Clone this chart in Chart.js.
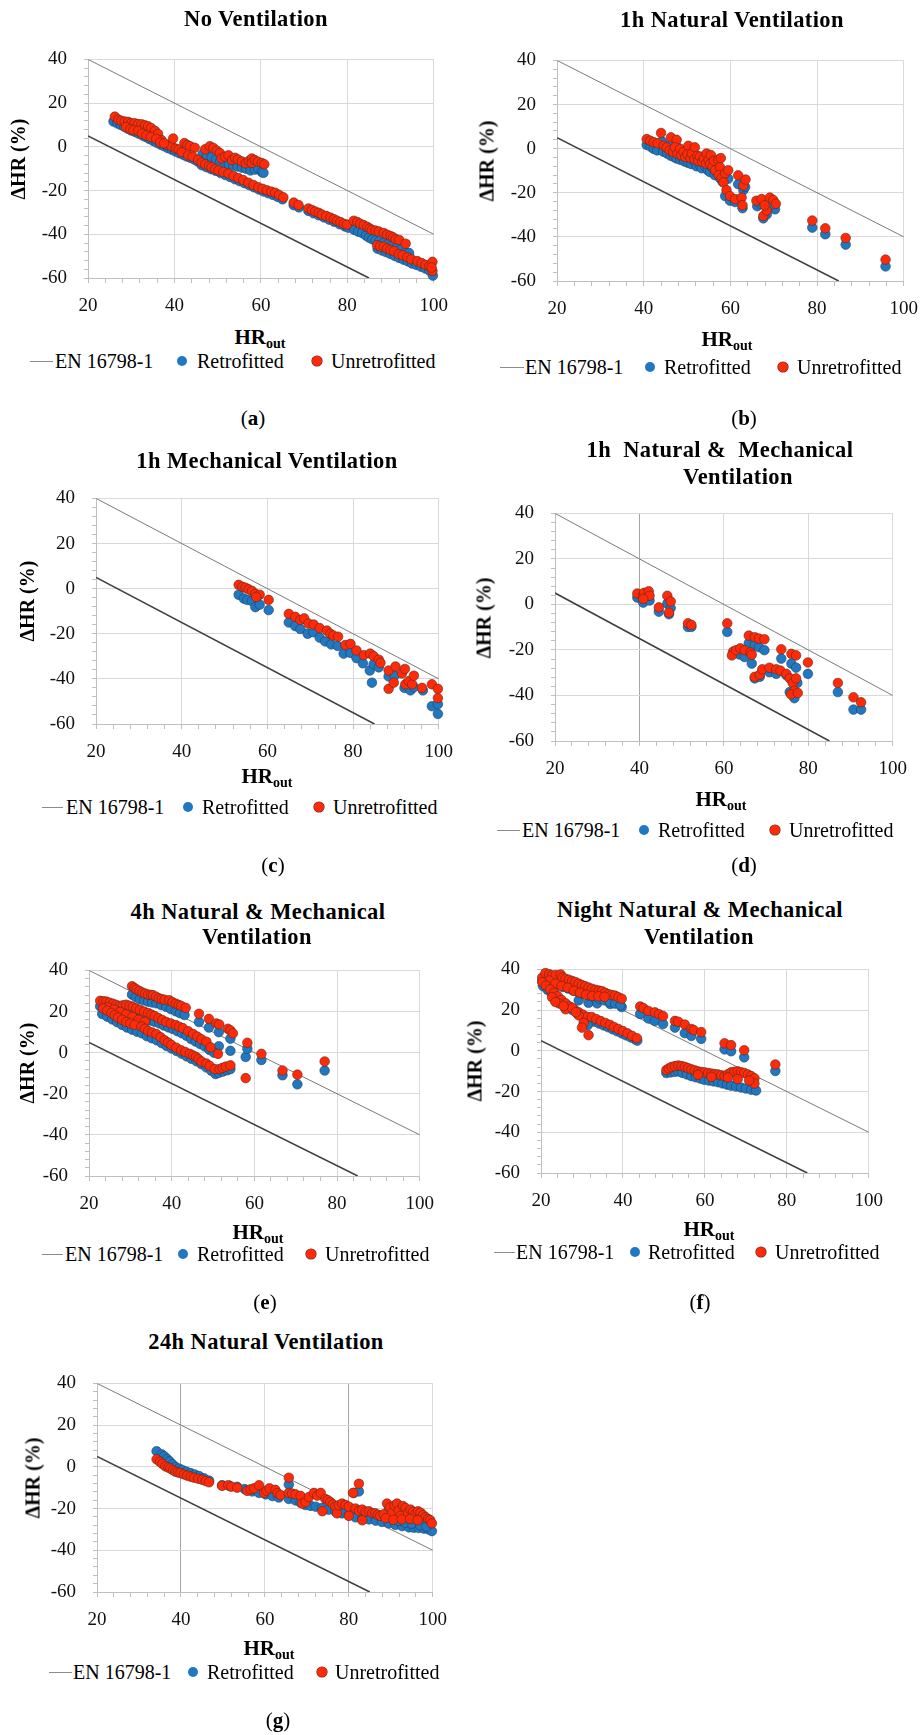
<!DOCTYPE html>
<html>
<head>
<meta charset="utf-8">
<script src="https://cdn.jsdelivr.net/npm/chart.js@4.4.1/dist/chart.umd.min.js"></script>
<style>
  body { margin: 0; background: #fff; width: 924px; height: 1735px; position: relative; overflow: hidden;
         font-family: "Liberation Serif", "DejaVu Serif", serif; color: #000; }
  .c { position: absolute; white-space: nowrap; transform: translate(-50%, -50%); }
  .l { position: absolute; white-space: nowrap; transform: translateY(-50%); font-size: 20px; }
  .ttl { font-weight: bold; font-size: 22.5px; letter-spacing: 0.4px; }
  .yt { font-weight: bold; font-size: 20px; transform: translate(-50%, -50%) rotate(-90deg); }
  .xt { font-weight: bold; font-size: 21px; }
  .xt sub { font-size: 14px; vertical-align: -4px; }
  .tag { font-size: 21px; }
  .dot { position: absolute; width: 10px; height: 10px; border-radius: 50%; transform: translate(-50%, -50%); }
  .seg { position: absolute; height: 0; border-top: 1px solid #8c8c8c; }
  .cw { position: absolute; }
</style>
</head>
<body>
<script>
"use strict";

// EN 16798-1 limit lines
const enUpperX = [20, 100];
const enUpperY = [40, -40];
const enLowerX = [20, 85];
const enLowerY = [5, -60];

// tick labels
const xTicks = [20, 40, 60, 80, 100];
const yTicks = [-60, -40, -20, 0, 20, 40];

// (a) No Ventilation
const aUnretro = [[26.2,13.8],[27.0,12.5],[27.7,11.9],[28.5,11.6],[29.3,11.4],[30.0,10.8],[30.8,10.8],[31.6,10.4],[32.4,10.3],[33.2,9.8],[33.9,9.4],[34.6,8.6],[35.5,7.3],[36.2,5.9],[37.0,3.1],[38.2,1.0],[39.3,0.3],[39.7,3.8],[28.8,9.0],[29.8,8.0],[30.5,7.6],[31.6,7.3],[32.5,6.0],[33.5,5.2],[34.5,4.5],[35.8,3.6],[36.7,2.0],[37.6,1.6],[40.3,-0.8],[41.0,-1.2],[41.7,-2.5],[42.3,1.7],[43.0,0.8],[43.6,0.3],[44.7,-0.4],[43.2,-3.9],[44.2,-4.5],[45.5,-6.0],
  [47.1,-1.1],[48.2,0.3],[49.0,-0.5],[49.8,-1.8],[50.5,-2.8],[50.9,-5.3],[51.7,-4.5],[52.5,-3.9],[53.3,-6.0],[54.0,-5.0],[54.7,-5.8],[55.6,-6.7],[56.5,-7.5],[57.2,-6.5],[57.9,-5.3],[57.9,-7.4],[58.6,-6.1],[59.3,-6.8],[60.2,-7.4],[60.8,-8.0],
  [46.3,-7.2],[47.1,-8.0],[48.0,-8.8],[48.6,-9.4],[49.4,-10.2],[50.2,-10.8],[51.3,-11.5],[52.5,-12.2],[53.7,-13.4],[54.8,-14.3],[55.9,-15.2],[57.1,-16.4],[58.3,-17.5],[59.4,-18.5],[60.4,-19.2],[61.4,-19.9],[62.4,-20.5],[63.3,-21.0],[64.2,-22.0],[65.2,-23.1],[67.6,-25.5],[68.7,-26.6],[71.0,-28.2],[71.8,-28.9],[72.6,-29.6],[73.4,-30.2],[74.1,-31.0],[75.1,-31.6],[76.1,-32.4],[76.9,-33.1],[77.6,-33.8],[78.4,-34.4],[79.2,-35.2],[79.9,-35.6],
  [81.5,-33.8],[82.3,-34.4],[83.0,-35.2],[83.8,-35.8],[84.6,-36.6],[85.2,-37.4],[85.7,-38.0],[86.5,-38.3],[87.3,-38.7],[88.4,-39.4],[89.2,-40.2],[90.0,-40.8],[90.6,-41.4],[91.2,-42.2],[92.0,-42.6],[93.5,-44.3],
  [86.9,-45.0],[87.6,-45.5],[88.4,-45.7],[89.2,-46.6],[90.0,-47.2],[90.8,-47.7],[91.9,-49.1],[92.8,-49.6],[93.9,-50.5],[94.8,-51.4],[96.2,-52.3],[97.2,-53.2],[98.1,-54.0],[99.0,-54.6],[99.7,-52.6],[99.7,-56.8],[99.5,-55.2]];
const aRetro = [[25.9,11.6],[26.8,10.7],[27.6,10.0],[28.4,9.2],[29.2,8.3],[30.0,7.5],[30.9,6.8],[31.7,6.1],[32.6,5.2],[33.4,4.5],[34.2,3.6],[35.1,2.7],[35.9,1.9],[36.8,1.0],[37.6,0.3],[38.5,-0.6],[39.4,-1.3],[40.2,-2.1],[41.1,-2.9],[42.0,-3.6],[42.8,-4.4],[43.7,-5.0],[44.6,-5.8],[45.4,-6.7],
  [46.5,-3.4],[47.5,-4.0],[48.6,-4.8],[49.6,-5.6],[50.6,-6.5],[51.6,-7.3],[52.6,-8.1],[53.6,-8.6],[54.6,-9.0],[55.6,-9.5],[56.6,-10.0],[57.6,-10.8],[58.6,-10.4],[59.4,-10.0],[60.2,-11.5],[60.6,-11.9],
  [46.3,-8.4],[47.4,-9.3],[48.5,-10.2],[49.6,-11.0],[50.7,-12.0],[51.8,-12.9],[52.9,-13.8],[54.0,-14.8],[55.1,-15.7],[56.2,-16.6],[57.3,-17.5],[58.4,-18.5],[59.5,-19.5],[60.6,-20.4],[61.7,-21.2],[62.8,-22.0],[63.9,-22.9],[65.0,-24.0],[67.6,-26.7],[68.8,-27.7],[71.0,-29.3],[72.2,-30.4],[73.4,-31.3],[74.6,-32.3],[75.8,-33.3],[77.0,-34.3],[78.2,-35.4],[79.4,-36.4],[80.2,-37.0],
  [81.6,-38.0],[82.5,-38.8],[83.4,-39.4],[84.3,-40.6],[85.0,-41.5],[85.8,-42.3],[86.5,-42.9],[87.4,-43.2],[88.4,-44.0],[89.4,-44.6],[90.4,-45.2],[91.4,-46.0],[92.4,-47.0],[93.5,-48.2],[94.3,-48.6],
  [87.0,-46.6],[88.0,-47.4],[89.0,-48.2],[90.0,-49.0],[91.0,-49.9],[92.0,-50.8],[93.0,-51.6],[94.0,-52.4],[95.0,-53.4],[96.0,-54.0],[97.0,-54.8],[98.0,-55.6],[99.0,-56.6],[99.8,-58.9]];

// (b) 1h Natural Ventilation
const bUnretro = [[40.7,4.3],[41.5,3.6],[42.3,2.9],[43.2,2.4],[44.0,7.1],[44.6,1.3],[45.3,0.5],[46.3,5.1],[46.0,-0.8],[46.8,-1.6],[47.6,4.0],[47.2,0.6],[47.8,-2.3],[48.4,-0.1],[48.6,-3.0],[49.2,-1.5],[49.6,-3.8],[50.3,1.3],[50.1,-2.6],[50.8,-4.2],[51.1,-2.2],[51.8,0.6],[51.7,-4.8],[52.4,-3.3],[52.6,-5.6],[53.0,-3.6],[53.5,-6.0],[53.9,-4.4],[54.5,-2.2],[54.4,-6.8],[55.0,-5.0],[55.5,-2.9],[55.3,-7.0],[55.9,-8.1],[56.5,-9.8],[56.2,-5.5],[57.2,-5.0],[57.8,-4.3],[57.6,-8.4],[57.3,-12.0],[58.0,-13.3],[58.8,-11.2],[59.5,-9.8],[58.4,-15.3],[59.1,-18.8],[59.9,-21.5],[61.1,-22.9],[62.6,-22.2],[61.8,-12.1],[63.0,-16.7],[63.5,-14.0],[62.8,-25.7],[66.0,-23.6],[67.2,-22.9],[67.6,-30.5],[68.4,-28.0],[67.9,-25.7],[69.1,-22.2],[69.9,-23.3],[70.5,-25.0],[78.9,-32.6],[81.9,-36.1],[86.6,-40.5],[95.8,-50.3]];
const bRetro = [[40.7,1.7],[41.6,0.9],[42.3,-0.1],[43.1,-0.8],[44.2,3.3],[44.5,-1.4],[45.4,-2.2],[46.3,2.0],[46.2,-3.2],[47.0,-3.8],[47.6,1.0],[47.6,-4.5],[48.4,-5.0],[49.0,-4.2],[49.4,-5.8],[50.2,-6.4],[50.8,-3.0],[51.0,-7.0],[51.8,-6.0],[52.2,-8.0],[52.9,-7.4],[53.4,-8.9],[54.2,-8.0],[54.8,-9.8],[55.3,-10.6],[55.8,-8.6],[56.4,-12.0],[57.0,-11.0],[57.6,-13.4],[58.2,-15.0],[58.8,-14.0],[59.5,-13.6],[58.8,-21.5],[59.9,-23.6],[61.1,-24.2],[61.8,-16.1],[63.0,-18.8],[63.4,-17.4],[62.8,-27.0],[66.2,-26.1],[67.0,-25.0],[67.6,-31.6],[68.4,-29.8],[70.3,-27.5],[69.5,-25.4],[78.9,-35.8],[81.9,-38.8],[86.6,-43.5],[95.8,-53.4]];

// (c) 1h Mechanical Ventilation
const cUnretro = [[53.3,1.7],[54.2,0.8],[54.9,0.4],[55.6,-0.3],[56.4,-1.0],[57.2,-2.3],[58.2,-2.7],[57.4,-3.7],[60.3,-5.0],[65.0,-11.2],[66.5,-12.5],[67.7,-13.9],[68.6,-13.2],[69.6,-15.5],[70.8,-15.9],[72.2,-17.5],[73.9,-18.6],[74.7,-20.0],[75.4,-20.8],[76.5,-21.3],[78.2,-25.0],[79.4,-24.5],[80.8,-27.4],[82.5,-29.5],[84.0,-28.8],[84.8,-29.9],[86.0,-31.5],[86.4,-32.9],[88.3,-36.3],[88.3,-44.4],[89.5,-41.7],[89.9,-34.5],[91.4,-37.6],[92.1,-35.6],[92.2,-42.4],[93.0,-41.0],[93.8,-42.4],[94.2,-38.6],[96.1,-44.0],[98.4,-42.4],[99.8,-44.4],[99.8,-48.5]];
const cRetro = [[53.3,-2.7],[54.5,-4.4],[55.3,-5.0],[56.4,-5.5],[57.2,-8.2],[58.2,-7.1],[60.3,-9.5],[65.0,-15.0],[66.5,-16.6],[67.7,-17.9],[69.4,-20.0],[70.7,-19.3],[72.2,-21.7],[73.5,-23.4],[74.9,-24.7],[76.4,-25.4],[77.8,-28.8],[79.4,-28.5],[80.8,-30.8],[82.3,-33.1],[83.9,-36.3],[84.4,-41.7],[84.8,-33.5],[86.0,-34.9],[88.3,-38.9],[89.7,-38.6],[92.0,-44.0],[93.4,-45.1],[94.2,-43.7],[96.3,-45.1],[98.4,-52.1],[99.8,-51.2],[99.8,-55.5]];

// (d) 1h Natural & Mechanical Ventilation
const dUnretro = [[39.5,4.8],[40.9,4.0],[41.1,5.1],[42.2,5.8],[42.4,3.8],[40.9,2.4],[44.6,-1.3],[46.6,3.8],[47.0,-3.6],[47.4,1.3],[51.5,-8.3],[52.3,-9.0],[60.8,-8.3],[62.2,-20.7],[61.9,-22.4],[62.9,-20.1],[63.9,-19.3],[64.9,-20.1],[65.9,-13.7],[66.3,-21.1],[66.6,-22.1],[67.3,-14.4],[68.3,-15.0],[69.6,-15.3],[67.3,-31.8],[68.5,-30.9],[69.1,-28.5],[70.8,-27.8],[72.4,-28.5],[73.4,-29.1],[73.6,-19.7],[74.8,-30.5],[75.6,-32.5],[76.0,-21.7],[76.3,-34.5],[76.7,-37.9],[75.9,-39.5],[77.1,-22.4],[77.1,-32.5],[77.5,-38.9],[79.9,-25.5],[87.0,-34.5],[90.7,-40.8],[92.5,-43.0]];
const dRetro = [[39.5,3.0],[40.9,0.8],[42.4,1.7],[44.6,-3.2],[46.6,0.4],[47.0,-4.3],[47.4,-1.6],[51.5,-9.9],[52.3,-9.9],[60.8,-12.1],[63.7,-22.0],[64.9,-23.1],[65.9,-17.0],[66.6,-26.0],[67.3,-17.7],[68.3,-18.8],[69.6,-20.1],[67.3,-32.5],[68.5,-31.8],[70.8,-29.8],[72.4,-30.5],[73.6,-23.8],[74.8,-31.1],[75.6,-38.5],[76.0,-26.0],[76.7,-41.2],[77.1,-27.8],[77.4,-34.5],[79.9,-30.5],[87.0,-38.5],[90.7,-46.2],[92.5,-46.2]];

// (e) 4h Natural & Mechanical Ventilation
const eUnretro = [[30.4,32.3],[31.0,31.4],[31.5,30.7],[32.2,30.0],[32.9,29.2],[33.6,28.7],[34.3,28.2],[35.0,28.1],[35.5,27.9],[36.2,27.2],[36.9,26.4],[37.6,26.0],[38.3,25.7],[39.4,25.5],[40.2,24.5],[41.0,23.8],[41.7,23.2],[42.3,22.7],[43.4,21.8],[46.6,18.9],[49.0,16.4],[50.8,14.2],[51.5,13.7],[53.6,11.6],[54.2,10.8],[54.8,9.4],[58.3,4.8],[61.7,-0.6],[66.8,-8.7],[70.4,-10.7],[77.0,-4.3],
  [22.7,25.2],[23.5,25.0],[24.2,24.8],[25.0,24.3],[25.8,23.8],[26.6,23.2],[27.4,22.7],[28.2,23.0],[29.0,23.3],[29.8,22.8],[30.6,22.3],[31.4,21.5],[32.3,20.8],[33.3,20.0],[34.3,19.3],[35.1,18.5],[35.9,17.8],[36.8,16.8],[37.7,15.9],[38.7,14.9],[39.8,14.2],[41.0,13.4],[41.8,12.6],[42.7,11.9],[44.0,10.4],[45.2,9.0],[46.2,7.8],[47.2,6.5],[48.4,5.3],[49.4,2.6],[51.2,-0.6],
  [24.5,22.0],[26.0,21.0],[27.5,19.8],[29.0,18.6],[30.5,17.4],[31.5,14.2],[32.0,16.0],[33.5,15.0],
  [23.4,21.5],[24.4,20.4],[25.4,19.3],[26.2,18.2],[27.0,17.1],[28.0,16.0],[29.0,14.9],[30.0,14.2],[31.0,13.5],[32.7,12.7],[33.5,11.6],[34.3,10.5],[35.3,9.8],[36.3,9.0],[37.3,7.5],[38.3,6.0],[39.1,4.9],[39.9,3.8],[41.1,2.4],[42.3,1.1],[43.3,0.3],[44.4,-0.6],[45.2,-1.4],[45.9,-2.1],[46.5,-3.2],[47.2,-4.3],[48.4,-5.3],[49.2,-6.5],[50.4,-8.0],[51.6,-8.0],[52.3,-7.4],[53.1,-6.8],[54.2,-6.2],[57.9,-12.4]];
const eRetro = [[30.4,28.2],[31.3,27.1],[32.3,26.0],[33.3,25.4],[34.3,24.8],[35.3,24.4],[36.3,24.0],[37.5,23.1],[38.7,22.3],[39.8,21.2],[41.0,20.1],[42.0,19.2],[43.1,18.3],[46.6,14.9],[49.0,12.2],[51.4,10.0],[51.4,3.1],[54.2,6.8],[54.2,0.9],[57.9,-2.1],[58.3,1.9],[61.7,-3.6],[66.8,-11.0],[70.4,-15.4],[77.0,-8.7],
  [22.7,22.5],[23.8,21.8],[24.9,21.0],[26.0,20.0],[27.1,19.0],[28.2,19.5],[29.3,19.8],[30.4,19.0],[31.5,18.0],[32.6,17.2],[33.7,16.4],[34.8,15.6],[35.9,15.0],[37.0,14.2],[38.1,13.2],[39.2,12.3],[40.3,11.5],[41.4,10.4],[42.5,9.4],[43.6,8.2],[44.7,6.6],[45.8,5.4],[46.9,4.2],[48.0,3.0],[49.1,1.4],[50.2,0.0],
  [23.2,18.8],[24.4,17.5],[25.6,16.2],[26.8,14.8],[28.0,13.5],[29.2,12.2],[30.4,11.2],[31.6,10.2],[32.8,9.4],[34.0,8.0],[35.2,7.0],[36.4,6.0],[37.6,4.6],[38.8,3.2],[40.0,2.0],[41.2,0.8],[42.4,-0.5],[43.6,-1.8],[44.8,-3.0],[46.0,-4.2],[47.2,-5.6],[48.4,-7.2],[49.6,-8.8],[50.6,-10.4],[51.4,-9.8],[52.4,-9.2],[53.4,-8.6],[54.2,-8.0]];

// (f) Night Natural & Mechanical Ventilation
const fUnretro = [[20.3,36.0],[21.1,38.2],[22.0,37.6],[22.7,37.0],[23.6,37.2],[24.8,37.5],[25.2,36.0],[26.0,35.4],[26.8,34.9],[27.6,34.3],[28.4,33.8],[29.2,33.0],[30.0,32.3],[30.8,31.7],[31.6,31.1],[32.4,30.5],[33.3,30.0],[34.1,29.6],[34.9,29.3],[35.7,28.5],[36.5,27.8],[37.3,27.4],[38.1,27.1],[38.9,26.3],[39.7,25.6],
  [22.0,34.5],[23.5,33.0],[25.0,31.8],[26.5,31.0],[28.0,29.5],[29.5,28.5],[31.0,27.5],[32.5,27.0],[34.0,26.8],[35.5,26.5],
  [20.3,33.7],[21.2,32.0],[22.2,30.2],[23.2,28.5],[24.1,26.8],[25.0,25.0],[26.0,23.3],[27.0,21.8],[28.1,20.4],[29.2,18.9],[30.2,17.8],[31.3,16.7],[32.4,16.6],[33.5,15.6],[34.6,14.6],[35.7,13.7],[36.8,12.8],[37.8,11.7],[38.9,10.7],[40.0,9.7],[41.1,8.6],[42.2,7.4],[43.4,6.2],
  [22.7,26.3],[24.4,23.3],[26.0,20.4],[27.6,21.1],[29.2,17.4],[30.4,13.7],[31.6,7.7],[30.0,11.4],[23.5,24.0],[25.5,22.0],[28.5,19.0],
  [44.2,21.8],[45.0,21.0],[46.2,19.6],[47.8,18.9],[48.8,18.0],[49.8,17.1],[52.7,14.7],[53.5,14.3],[55.1,12.9],[56.7,10.7],[57.3,10.2],[59.1,9.2],[64.8,3.7],[66.4,2.8],[69.6,0.3],[77.2,-6.7],
  [50.6,-9.4],[51.2,-8.6],[51.9,-7.9],[52.7,-7.5],[53.5,-7.2],[54.3,-7.5],[55.1,-7.9],[55.9,-8.5],[56.7,-9.1],[57.5,-9.6],[58.3,-10.1],[59.1,-10.4],[59.9,-10.6],[60.8,-10.9],[61.6,-11.2],[62.4,-11.4],[63.2,-11.6],[64.0,-12.0],[64.8,-12.4],[65.6,-11.5],[66.4,-10.6],[67.2,-10.3],[68.0,-10.1],[68.8,-10.5],[69.6,-10.9],[70.5,-11.6],[71.3,-12.4],[72.1,-13.5],[72.1,-16.1],[70.8,-14.6],[68.0,-13.9],[65.6,-13.1],[61.6,-12.8],[58.3,-11.8]];
const fRetro = [[20.3,34.4],[21.5,34.0],[22.8,33.0],[24.0,32.2],[25.3,31.4],[26.6,30.6],[27.8,29.6],[29.2,24.8],[29.0,28.8],[30.3,28.0],[31.6,23.6],[31.6,27.2],[32.9,26.4],[33.7,23.3],[34.2,25.6],[35.5,24.8],[36.9,23.0],[36.8,24.0],[38.1,23.2],[39.7,21.5],[39.4,22.4],
  [20.5,31.8],[21.6,30.0],[22.6,28.2],[23.6,26.5],[24.6,24.8],[25.6,23.0],[26.6,21.4],[27.7,20.0],[28.8,18.5],[29.8,17.3],[30.9,16.0],[32.0,15.2],[33.1,14.3],[34.2,13.4],[35.3,12.5],[36.4,11.6],[37.5,10.6],[38.6,9.6],[39.7,8.6],[40.8,7.6],[41.9,6.6],[43.0,5.6],[43.5,5.0],[31.4,12.6],
  [44.2,18.1],[46.2,15.9],[47.8,14.7],[49.8,13.2],[52.7,11.4],[55.1,8.7],[56.7,7.3],[59.1,5.9],[64.8,0.7],[66.4,-0.2],[69.6,-3.2],[77.2,-9.9],
  [50.6,-10.9],[51.6,-10.6],[52.6,-10.3],[53.5,-10.1],[54.5,-10.8],[55.6,-11.6],[56.7,-12.4],[57.8,-13.0],[58.9,-13.6],[59.9,-14.2],[61.0,-14.6],[62.1,-15.0],[63.2,-15.4],[64.3,-16.0],[65.4,-16.6],[66.4,-17.1],[67.6,-17.5],[68.8,-18.0],[70.0,-18.5],[71.3,-19.1],[72.5,-19.5]];

// (g) 24h Natural Ventilation
const gUnretro = [[34.2,3.6],[35.0,2.4],[35.6,1.4],[36.3,0.2],[37.0,-0.3],[37.5,-0.8],[38.1,-1.6],[38.7,-2.3],[39.3,-2.7],[39.9,-3.0],[40.7,-3.6],[41.5,-4.2],[42.3,-4.7],[43.1,-5.2],[44.1,-5.7],[45.1,-6.2],[45.9,-6.8],[46.7,-7.4],[49.8,-9.1],[51.3,-8.8],[52.0,-9.5],[53.4,-10.0],[55.8,-11.5],[56.6,-10.8],[57.4,-10.3],[58.6,-8.8],[59.8,-12.5],[60.4,-11.4],[61.1,-10.3],[62.5,-11.0],[63.0,-12.6],[63.7,-13.5],[65.7,-5.2],[65.7,-12.5],[66.5,-12.8],[67.3,-13.2],[68.5,-13.9],[68.9,-17.6],[69.7,-16.9],[70.5,-14.5],[71.7,-12.5],[72.5,-13.8],[73.3,-12.5],[73.7,-21.3],[74.4,-15.4],[75.0,-16.0],[75.6,-16.9],[76.2,-18.0],[76.8,-19.1],[77.2,-22.3],[77.6,-18.4],[78.4,-17.6],[79.2,-18.3],[80.0,-19.1],[80.0,-23.5],[81.0,-12.5],[82.4,-8.1],[81.6,-20.0],[82.4,-21.0],[83.2,-20.5],[83.2,-25.6],[84.0,-21.5],[84.8,-21.3],[85.6,-22.2],[86.3,-22.3],[86.9,-23.0],[87.5,-23.5],[88.3,-22.8],[89.1,-17.6],[89.8,-19.5],[90.3,-22.0],[90.9,-18.5],[91.5,-17.6],[91.9,-21.0],[92.3,-23.5],[92.9,-18.8],[93.5,-19.8],[94.1,-22.0],[94.7,-20.5],[95.3,-21.6],[95.9,-22.7],[96.5,-21.3],[97.1,-22.0],[97.7,-23.2],[98.3,-24.2],[98.9,-25.0],[99.4,-25.6],[99.8,-27.1],[88.8,-24.6],[90.6,-25.4],[92.6,-25.2],[94.6,-25.0],[96.4,-25.6]];
const gRetro = [[34.2,7.5],[35.4,6.0],[36.0,5.1],[36.7,3.8],[37.3,2.6],[38.0,1.2],[38.7,-0.1],[39.5,-0.8],[40.3,-1.5],[41.3,-2.3],[42.3,-3.0],[43.3,-3.7],[44.3,-4.4],[45.5,-5.5],[46.7,-6.6],[49.8,-8.8],[51.6,-9.2],[53.4,-9.6],[55.2,-10.7],[57.0,-11.8],[58.6,-12.5],[60.2,-13.2],[61.8,-14.0],[63.3,-14.7],[65.7,-8.5],[65.7,-15.4],[67.3,-16.1],[68.5,-17.2],[69.7,-18.3],[70.9,-18.7],[72.1,-19.1],[73.6,-19.8],[75.2,-20.5],[76.8,-21.4],[78.4,-22.3],[80.0,-23.2],[81.2,-12.5],[82.4,-11.8],[81.6,-24.2],[83.2,-24.7],[84.8,-25.2],[86.4,-25.8],[87.9,-26.4],[89.5,-20.5],[89.5,-27.1],[91.1,-27.8],[92.7,-28.4],[94.3,-29.0],[95.5,-29.2],[96.7,-29.3],[97.9,-29.6],[99.0,-30.0],[99.8,-30.8],[90.5,-25.0],[92.0,-26.0],[93.5,-26.8],[95.0,-27.3],[97.0,-28.0],[98.5,-28.6]];

const BLUE = '#2178c2';
const RED = '#ff2a08';
const FONT = '"Liberation Serif", "DejaVu Serif", serif';

// page layout of each panel (plot box in page pixels + text anchors)
const panels = [
  { tag: 'a', red: aUnretro, blue: aRetro, L: 87.7, R: 433.3, T: 39, B: 278.3,
    titles: [['No Ventilation', 256, 19]], yTitleX: 18, xTitle: [260, 338], tagPos: [253, 418], darkX: [],
    legend: { y: 361, line: [30, 53], en: 55, dotB: 182, retro: 197, dotR: 317, unretro: 331 } },
  { tag: 'b', red: bUnretro, blue: bRetro, L: 557, R: 904, T: 40, B: 281,
    titles: [['1h Natural Ventilation', 732, 20]], yTitleX: 487, xTitle: [727, 340], tagPos: [744, 418], darkX: [],
    legend: { y: 367, line: [500, 524], en: 525, dotB: 650, retro: 664, dotR: 783, unretro: 797 } },
  { tag: 'c', red: cUnretro, blue: cRetro, L: 95.7, R: 438.3, T: 477.7, B: 723.3,
    titles: [['1h Mechanical Ventilation', 267, 461]], yTitleX: 27, xTitle: [267, 777], tagPos: [273, 865], darkX: [],
    legend: { y: 807, line: [42, 63], en: 66, dotB: 188, retro: 202, dotR: 319, unretro: 333 } },
  { tag: 'd', red: dUnretro, blue: dRetro, L: 555.3, R: 893.7, T: 493.3, B: 741.7,
    titles: [['1h  Natural &  Mechanical', 720, 450], ['Ventilation', 738, 477]], yTitleX: 484, xTitle: [721, 800], tagPos: [744, 865], darkX: [40],
    legend: { y: 830, line: [497, 520], en: 522, dotB: 644, retro: 658, dotR: 775, unretro: 789 } },
  { tag: 'e', red: eUnretro, blue: eRetro, L: 89.3, R: 420, T: 950, B: 1176,
    titles: [['4h Natural & Mechanical', 258, 912], ['Ventilation', 257, 937]], yTitleX: 27, xTitle: [258, 1233], tagPos: [265, 1302], darkX: [],
    legend: { y: 1254, line: [42, 63], en: 65, dotB: 183, retro: 197, dotR: 311, unretro: 325 } },
  { tag: 'f', red: fUnretro, blue: fRetro, L: 541.3, R: 869.7, T: 949, B: 1173,
    titles: [['Night Natural & Mechanical', 700, 910], ['Ventilation', 699, 937]], yTitleX: 475, xTitle: [709, 1230], tagPos: [700, 1302], darkX: [],
    legend: { y: 1252, line: [494, 515], en: 516, dotB: 635, retro: 648, dotR: 761, unretro: 775 } },
  { tag: 'g', red: gUnretro, blue: gRetro, L: 96.7, R: 432.3, T: 1363.3, B: 1592.3,
    titles: [['24h Natural Ventilation', 266, 1342]], yTitleX: 33, xTitle: [269, 1649], tagPos: [278, 1720], darkX: [40, 80],
    legend: { y: 1672, line: [49, 72], en: 73, dotB: 193, retro: 207, dotR: 322, unretro: 335 } }
];

function el(cls, html, x, y) {
  const d = document.createElement('div');
  d.className = cls;
  d.innerHTML = html;
  d.style.left = x + 'px';
  d.style.top = y + 'px';
  document.body.appendChild(d);
  return d;
}

function pts(arr) { return arr.map(p => ({ x: p[0], y: p[1] })); }
function linePts(xs, ys) { return xs.map((x, i) => ({ x: x, y: ys[i] })); }

function drawPanel(p) {
  const padL = 64, padR = 26, padT = 8, padB = 46;
  const w = Math.round(p.R - p.L) + padL + padR;
  const h = Math.round(p.B - p.T) + padT + padB;
  const wrap = document.createElement('div');
  wrap.className = 'cw';
  wrap.style.left = (p.L - padL) + 'px';
  wrap.style.top = (p.T - padT) + 'px';
  const cv = document.createElement('canvas');
  cv.width = w; cv.height = h;
  cv.style.width = w + 'px'; cv.style.height = h + 'px';
  wrap.appendChild(cv);
  document.body.appendChild(wrap);

  const gridCol = (dark) => (c) => {
    const v = c.tick ? c.tick.value : NaN;
    if (dark.indexOf(v) >= 0) return '#a6a6a6';
    return Math.abs(v % 20) < 1e-6 ? '#d9d9d9' : 'rgba(0,0,0,0)';
  };
  const tickFont = { family: FONT, size: 19 };

  new Chart(cv, {
    type: 'scatter',
    data: {
      datasets: [
        { label: 'Unretrofitted', data: pts(p.red), backgroundColor: RED, borderColor: '#5a2a20', borderWidth: 0.6,
          pointRadius: 4.8, order: 1, clip: false },
        { label: 'Retrofitted', data: pts(p.blue), backgroundColor: BLUE, borderColor: '#1d3f5c', borderWidth: 0.6,
          pointRadius: 4.8, order: 2, clip: false },
        { type: 'line', label: 'EN 16798-1', data: linePts(enUpperX, enUpperY), borderColor: '#7a7a7a', borderWidth: 1,
          pointRadius: 0, fill: false, order: 3 },
        { type: 'line', label: 'EN 16798-1 low', data: linePts(enLowerX, enLowerY), borderColor: '#404040', borderWidth: 1.6,
          pointRadius: 0, fill: false, order: 3 }
      ]
    },
    options: {
      responsive: false,
      animation: false,
      devicePixelRatio: 1,
      layout: { padding: { left: 0, right: padR, top: padT, bottom: 0 }, autoPadding: false },
      plugins: { legend: { display: false }, tooltip: { enabled: false }, title: { display: false } },
      scales: {
        x: {
          type: 'linear', min: 20, max: 100,
          afterFit: (s) => { s.height = padB; },
          ticks: { stepSize: 4, autoSkip: false, maxRotation: 0, padding: 12, color: '#111', font: tickFont,
                   callback: (v) => xTicks.indexOf(v) >= 0 ? String(v) : '' },
          grid: { color: gridCol(p.darkX), tickColor: '#bfbfbf', tickLength: 5, lineWidth: 1 },
          border: { color: '#bfbfbf' }
        },
        y: {
          type: 'linear', min: -60, max: 40,
          afterFit: (s) => { s.width = padL; },
          ticks: { stepSize: 4, autoSkip: false, padding: 17, color: '#111', font: tickFont,
                   callback: (v) => yTicks.indexOf(v) >= 0 ? String(v) : '' },
          grid: { color: gridCol([]), tickColor: '#bfbfbf', tickLength: 4, lineWidth: 1 },
          border: { color: '#bfbfbf' }
        }
      }
    }
  });

  p.titles.forEach(t => el('c ttl', t[0].replace(/&/g, '&amp;').replace(/  /g, ' &nbsp;'), t[1], t[2]));
  el('c yt', '&Delta;HR (%)', p.yTitleX, (p.T + p.B) / 2);
  el('c xt', 'HR<sub>out</sub>', p.xTitle[0], p.xTitle[1]);
  el('c tag', '(<b>' + p.tag + '</b>)', p.tagPos[0], p.tagPos[1]);

  const lg = p.legend;
  const seg = el('seg', '', lg.line[0], lg.y);
  seg.style.width = (lg.line[1] - lg.line[0]) + 'px';
  el('l', 'EN 16798-1', lg.en, lg.y);
  const db = el('dot', '', lg.dotB, lg.y);
  db.style.background = BLUE;
  el('l', 'Retrofitted', lg.retro, lg.y);
  const dr = el('dot', '', lg.dotR, lg.y);
  dr.style.background = RED;
  dr.style.boxShadow = '0 0 0 0.6px #5a2a20';
  el('l', 'Unretrofitted', lg.unretro, lg.y);
}

panels.forEach(drawPanel);
</script>
</body>
</html>
